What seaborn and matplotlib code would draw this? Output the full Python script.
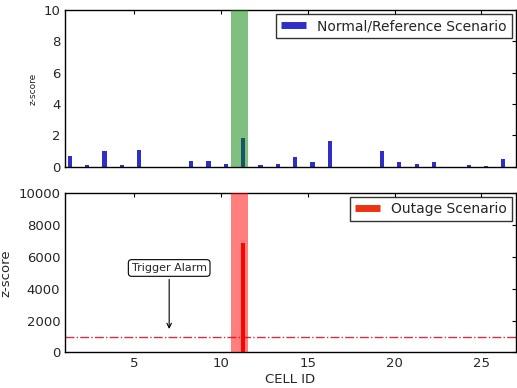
import numpy as np
import pandas as pd
import matplotlib
matplotlib.use("Agg")
import matplotlib.pyplot as plt
import seaborn as sns
from matplotlib.lines import Line2D

sns.set_style("white")
plt.rcParams['font.family'] = ['DejaVu Sans']
plt.rcParams['xtick.direction'] = 'in'
plt.rcParams['ytick.direction'] = 'in'
plt.rcParams['xtick.top'] = True
plt.rcParams['ytick.right'] = True

# -----------------------------
# Data
# -----------------------------
cells = np.arange(1, 27)
normal_z = [0.68, 0.09, 0.98, 0.13, 1.07, 0.0, 0.0, 0.38, 0.38, 0.17,
            1.82, 0.10, 0.17, 0.62, 0.30, 1.62, 0.0, 0.0, 1.02, 0.30,
            0.20, 0.30, 0.0, 0.10, 0.03, 0.50]
outage_z = [0.68, 0.09, 0.98, 0.13, 1.07, 0.0, 0.0, 0.38, 0.38, 0.17,
            6850, 0.10, 0.17, 0.62, 0.30, 1.62, 0.0, 0.0, 1.02, 0.30,
            0.20, 0.30, 0.0, 0.10, 0.03, 0.50]
outage_cell = 11
alarm_threshold = 1000

df = pd.DataFrame({'cell': cells, 'normal': normal_z, 'outage': outage_z})
df['pos'] = df['cell'] + 0.27

fig = plt.figure(figsize=(5.17, 3.88), dpi=100)
ax1 = fig.add_axes([0.126, 0.570, 0.872, 0.404])
ax2 = fig.add_axes([0.126, 0.0915, 0.872, 0.411])

# -----------------------------
# Top: normal scenario
# -----------------------------
sns.barplot(data=df, x='pos', y='normal', native_scale=True, width=0.24,
            color='#2f2fc8', saturation=1, linewidth=0, ax=ax1, zorder=2)
ax1.axvspan(outage_cell - 0.45, outage_cell + 0.55, color='g', alpha=0.5, lw=0, zorder=3)
ax1.set_xlim(1, 27)
ax1.set_ylim(0, 10)
ax1.set_yticks([0, 2, 4, 6, 8, 10])
ax1.set_xticks([5, 10, 15, 20, 25])
ax1.set_xticklabels([])
ax1.set_xlabel("")
ax1.set_ylabel("z-score", fontsize=6.5)
ax1.tick_params(labelsize=9.5, length=3, color='k')
ax1.legend(handles=[Line2D([], [], color='#2f2fc8', lw=5, solid_capstyle='butt')],
           labels=["Normal/Reference Scenario"], loc='upper right',
           fontsize=10, frameon=True, fancybox=False, edgecolor='k',
           borderaxespad=0.3, handlelength=1.8, borderpad=0.35)

# -----------------------------
# Bottom: outage scenario
# -----------------------------
sns.barplot(data=df, x='pos', y='outage', native_scale=True, width=0.24,
            color='#ee1100', saturation=1, linewidth=0, ax=ax2, zorder=2)
ax2.axvspan(outage_cell - 0.45, outage_cell + 0.55, color='r', alpha=0.5, lw=0, zorder=3)
ax2.axhline(alarm_threshold, color='#d03048', ls='-.', lw=1, zorder=1)
ax2.annotate("Trigger Alarm", xy=(7, alarm_threshold + 300), xytext=(7, 5300),
             ha='center', va='center', fontsize=8,
             bbox=dict(boxstyle='round,pad=0.3', fc='w', ec='k', lw=0.8),
             arrowprops=dict(arrowstyle='->', color='k', lw=0.8))
ax2.set_xlim(1, 27)
ax2.set_ylim(0, 10000)
ax2.set_yticks([0, 2000, 4000, 6000, 8000, 10000])
ax2.set_xticks([5, 10, 15, 20, 25])
ax2.set_xticklabels(['5', '10', '15', '20', '25'])
ax2.set_xlabel("CELL ID", fontsize=9.5, labelpad=2)
ax2.set_ylabel("z-score", fontsize=9.5)
ax2.tick_params(labelsize=9.5, length=3, color='k')
ax2.legend(handles=[Line2D([], [], color='#ee3311', lw=5, solid_capstyle='butt')],
           labels=["Outage Scenario"], loc='upper right',
           fontsize=10, frameon=True, fancybox=False, edgecolor='k',
           borderaxespad=0.3, handlelength=1.8, borderpad=0.35)

for ax in (ax1, ax2):
    for s in ax.spines.values():
        s.set_color('k')
        s.set_linewidth(1)

fig.savefig("out.png", dpi=100)
